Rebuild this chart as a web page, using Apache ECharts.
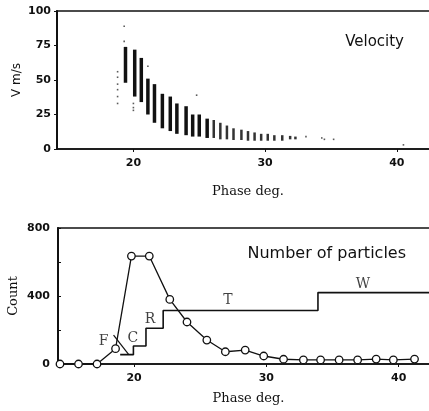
<!DOCTYPE html>
<html>
<head>
<meta charset="utf-8">
<script src="https://cdn.jsdelivr.net/npm/echarts@6/dist/echarts.min.js"></script>
<style>
  html, body { margin: 0; padding: 0; background: #fff; }
  #main { width: 429px; height: 411px; }
</style>
</head>
<body>
<div id="main"></div>
<script>
var chartDom = document.getElementById('main');
var myChart = echarts.init(chartDom, null, { renderer: 'canvas' });

// velocity strips (phase, top and bottom of each dense column)
var stripPhase = [19.4, 20.1, 20.6, 21.1, 21.6, 22.2, 22.8, 23.3, 24.0, 24.5, 25.0, 25.6, 26.1,
                  26.6, 27.1, 27.6, 28.2, 28.7, 29.2, 29.7, 30.2, 30.7, 31.3, 31.9, 32.3];
var stripHigh  = [74, 72, 66, 51, 47, 40, 38, 33, 31, 25, 25, 22, 21,
                  19, 17, 15, 14, 13, 12, 11, 11, 10, 10, 9.5, 9];
var stripLow   = [48, 38, 34, 25, 19, 15, 13, 11, 10, 9, 9, 8, 8,
                  7, 7, 6.5, 6.5, 6, 6, 6, 6, 6, 6, 7, 7];

// scattered single dots outside the columns
var dotPhase = [19.3, 19.3, 18.8, 18.8, 18.8, 18.8, 18.8, 18.8, 20.0, 20.0, 20.0, 21.1, 24.8, 33.1, 34.3, 34.5, 35.2, 40.5];
var dotV     = [89, 78, 56, 52, 47, 43, 38, 33, 33, 30, 28, 60, 39, 9, 8, 7, 7, 3];

// number of particles (circles)
var countPhase = [14.4, 15.8, 17.2, 18.6, 19.8, 21.15, 22.7, 24.0, 25.5, 26.9, 28.4, 29.8,
                  31.3, 32.8, 34.1, 35.5, 36.9, 38.3, 39.6, 41.2];
var countVal   = [0, 0, 0, 90, 635, 635, 380, 247, 141, 72, 82, 47,
                  28, 24, 24, 24, 24, 29, 24, 29];

// cumulative step line
var stepPhase = [18.95, 19.95, 20.9, 22.2, 33.9, 43.5];
var stepVal   = [55, 106, 210, 315, 420, 420];

// short leader line at F
var leadPhase = [18.45, 19.6];
var leadVal   = [170, 55];

// region labels
var annoText  = ['F', 'C', 'R', 'T', 'W'];
var annoPhase = [17.7, 19.9, 21.2, 27.1, 37.3];
var annoVal   = [131, 153, 265, 372, 470];

var xTicks = [20, 30, 40];

function zip(a, b) {
  return a.map(function (v, i) { return [v, b[i]]; });
}

var tickFont = { fontFamily: 'DejaVu Sans', fontSize: 11, fontWeight: 'bold', color: '#111' };
var nameFont = { fontFamily: 'DejaVu Serif', fontSize: 13, color: '#111' };

var option = {
  backgroundColor: '#fff',
  animation: false,
  title: [
    { text: 'Velocity', right: 20, top: 30,
      textStyle: { fontFamily: 'DejaVu Sans', fontSize: 15, fontWeight: 'normal', color: '#111' } },
    { text: 'Number of particles', right: 18, top: 241,
      textStyle: { fontFamily: 'DejaVu Sans', fontSize: 16, fontWeight: 'normal', color: '#111' } }
  ],
  grid: [
    { left: 57, right: -10, top: 11, bottom: 262, outerBoundsMode: 'none',
      show: true, borderColor: '#111', borderWidth: 1.5 },
    { left: 58, right: -10, top: 228, bottom: 47, outerBoundsMode: 'none',
      show: true, borderColor: '#111', borderWidth: 1.5 }
  ],
  xAxis: [
    { gridIndex: 0, type: 'value', min: 14.2, max: 43.2, interval: 10,
      name: 'Phase deg.', nameLocation: 'middle', nameGap: 36, nameTextStyle: nameFont,
      nameMoveOverlap: false,
      axisLine: { lineStyle: { color: '#111', width: 1.5 } },
      axisTick: { length: 3, lineStyle: { color: '#111' }, customValues: xTicks },
      axisLabel: Object.assign({ margin: 9, customValues: xTicks }, tickFont),
      splitLine: { show: false } },
    { gridIndex: 1, type: 'value', min: 14.25, max: 43.05, interval: 10,
      name: 'Phase deg.', nameLocation: 'middle', nameGap: 28, nameTextStyle: nameFont,
      nameMoveOverlap: false,
      axisLine: { lineStyle: { color: '#111', width: 1.5 } },
      axisTick: { length: 3, lineStyle: { color: '#111' }, customValues: xTicks },
      axisLabel: Object.assign({ margin: 9, customValues: xTicks }, tickFont),
      splitLine: { show: false } }
  ],
  yAxis: [
    { gridIndex: 0, type: 'value', min: 0, max: 100, interval: 25,
      name: 'V m/s', nameLocation: 'middle', nameGap: 34, nameRotate: 90,
      nameMoveOverlap: false,
      nameTextStyle: { fontFamily: 'DejaVu Sans', fontSize: 12, color: '#111' },
      axisLine: { show: true, lineStyle: { color: '#111', width: 2 } },
      axisTick: { show: true, length: 3, lineStyle: { color: '#111' } },
      axisLabel: Object.assign({ margin: 6 }, tickFont),
      splitLine: { show: false } },
    { gridIndex: 1, type: 'value', min: 0, max: 800, interval: 200,
      name: 'Count', nameLocation: 'middle', nameGap: 38, nameRotate: 90,
      nameMoveOverlap: false,
      nameTextStyle: { fontFamily: 'DejaVu Serif', fontSize: 13, color: '#111' },
      axisLine: { show: true, lineStyle: { color: '#111', width: 2 } },
      axisTick: { show: true, inside: true, length: 3, lineStyle: { color: '#111' } },
      axisLabel: Object.assign({ margin: 8,
        formatter: function (v) { return v % 400 === 0 ? String(v) : ''; } }, tickFont),
      splitLine: { show: false } }
  ],
  series: [
    {
      type: 'custom',
      xAxisIndex: 0, yAxisIndex: 0,
      data: stripPhase.map(function (p, i) { return [p, stripLow[i], stripHigh[i]]; }),
      renderItem: function (params, api) {
        var top = api.coord([api.value(0), api.value(2)]);
        var bot = api.coord([api.value(0), api.value(1)]);
        var w = api.value(0) < 26 ? 3.5 : 2.5;
        return {
          type: 'rect',
          shape: { x: top[0] - w / 2, y: top[1], width: w, height: bot[1] - top[1] },
          style: { fill: api.value(0) < 26 ? '#111' : '#333' }
        };
      },
      silent: true
    },
    {
      type: 'scatter',
      xAxisIndex: 0, yAxisIndex: 0,
      data: zip(dotPhase, dotV),
      symbol: 'rect',
      symbolSize: 1.6,
      itemStyle: { color: '#333' },
      silent: true
    },
    {
      type: 'line',
      xAxisIndex: 1, yAxisIndex: 1,
      data: zip(stepPhase, stepVal),
      step: 'end',
      showSymbol: false,
      lineStyle: { color: '#111', width: 1.6 },
      silent: true
    },
    {
      type: 'line',
      xAxisIndex: 1, yAxisIndex: 1,
      data: zip(leadPhase, leadVal),
      showSymbol: false,
      lineStyle: { color: '#111', width: 1.2 },
      silent: true
    },
    {
      type: 'line',
      xAxisIndex: 1, yAxisIndex: 1,
      data: zip(countPhase, countVal),
      symbol: 'circle',
      symbolSize: 7.5,
      itemStyle: { color: '#fff', borderColor: '#111', borderWidth: 1.3 },
      lineStyle: { color: '#111', width: 1.3 },
      z: 3,
      silent: true
    },
    {
      type: 'scatter',
      xAxisIndex: 1, yAxisIndex: 1,
      data: annoPhase.map(function (p, i) { return { value: [p, annoVal[i]], name: annoText[i] }; }),
      symbolSize: 0,
      label: {
        show: true, position: 'inside', formatter: '{b}',
        fontFamily: 'DejaVu Serif', fontSize: 14, color: '#111'
      },
      silent: true
    }
  ]
};

myChart.setOption(option);
</script>
</body>
</html>
